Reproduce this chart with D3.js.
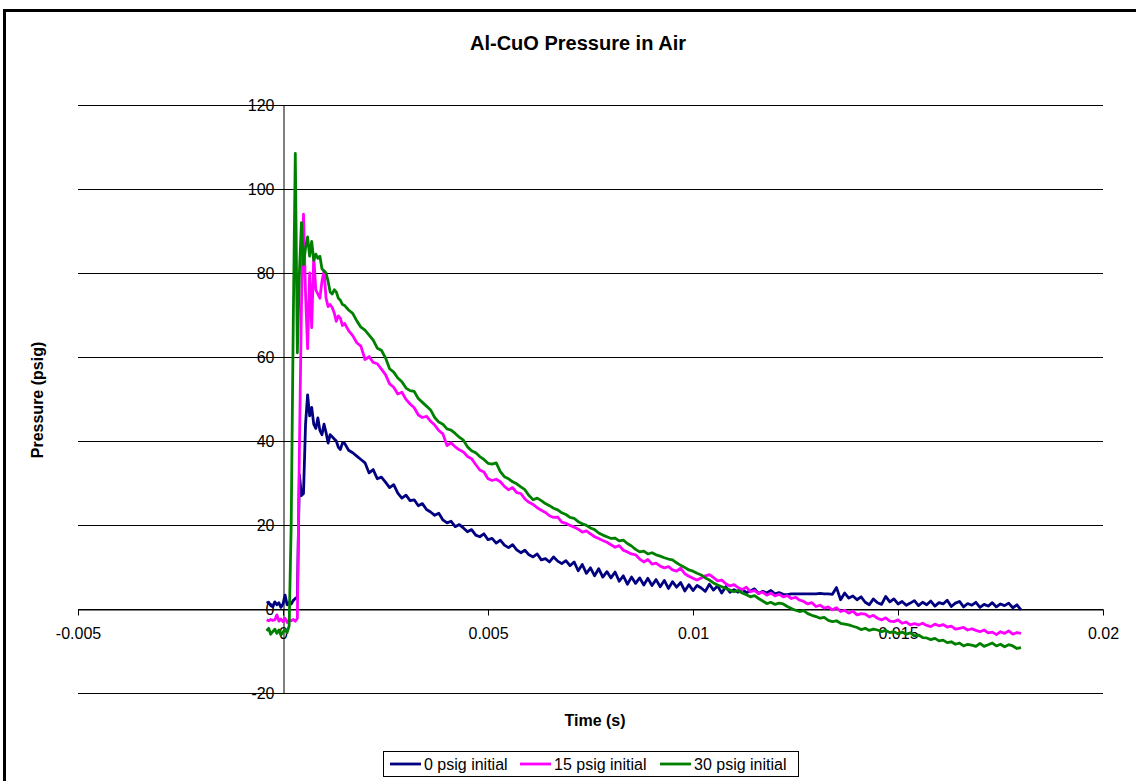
<!DOCTYPE html>
<html>
<head>
<meta charset="utf-8">
<script src="https://cdn.jsdelivr.net/npm/d3@7"></script>
<style>
  body { margin: 0; background: #fff; }
  text { font-family: "Liberation Sans", Arial, sans-serif; }
</style>
</head>
<body>
<script>
// sample grid: fine steps around the ignition, then 0.1 ms steps
var earlyTime = d3.range(-8, 30).map(function(i) { return i * 0.00005; });
var lateTime = d3.range(15, 181).map(function(i) { return i * 0.0001; });
var time = earlyTime.concat(lateTime);

var seriesNames = ["0 psig initial", "15 psig initial", "30 psig initial"];
var seriesColors = ["#000080", "#ff00ff", "#008000"];

var psig0 = [
  1.4, 1.6, 0.8, 0.5, 1.7, 1.0, 1.5, 0.4, 1.2, 3.3, 1.0, 1.6, 1.2, 2.0, 2.5, 2.8,
  32.0, 27.0, 27.5, 44.0, 51.0, 46.0, 48.0, 44.0, 43.0, 45.5, 42.5, 41.5, 44.0, 42.0, 39.5, 41.5,
  41.0, 40.5, 40.0, 38.5, 38.0, 39.5,
  39.5, 37.8, 37.2, 36.4, 35.6, 34.8, 32.4, 33.2, 31.0, 31.4, 30.2, 28.9, 29.6, 27.6, 26.4,
  27.1, 25.8, 26.0, 24.6, 25.1, 23.7, 23.1, 22.3, 22.8, 21.2,
  20.5, 20.9, 19.6, 20.1, 19.3, 18.4, 18.9, 17.6, 17.2, 17.9,
  16.5, 16.8, 15.7, 16.4, 15.2, 14.6, 15.3, 14.1, 13.4, 14.0,
  12.9, 12.4, 13.1, 11.7, 12.0, 11.2, 12.4, 11.4, 10.8, 11.5,
  10.3, 11.2, 9.1, 10.6, 8.5, 9.8, 7.9, 9.6, 7.6, 8.9,
  7.4, 8.8, 6.6, 7.9, 5.9, 7.6, 6.1, 7.4, 5.7, 7.3,
  5.6, 7.0, 5.3, 6.8, 4.9, 6.5, 5.2, 6.3, 4.3, 5.8,
  4.4, 5.6, 5.0, 4.2, 5.9, 4.5, 5.5, 3.8, 5.3, 4.0,
  4.6, 4.0, 4.7, 3.9, 4.3, 4.8, 3.7, 4.2, 3.8, 4.4,
  3.6, 3.9, 3.5, 3.4, 3.6, 3.6, 3.6, 3.6, 3.6, 3.6,
  3.6, 3.7, 3.6, 3.6, 3.5, 5.1, 2.2, 3.8, 2.6, 3.1,
  2.2, 2.9, 1.6, 1.0, 2.4, 1.5, 1.1, 3.0, 1.7, 2.4,
  1.2, 1.8, 0.9, 1.4, 2.0, 0.8, 1.6, 1.0, 1.9, 0.7,
  1.5, 1.2, 2.1, 0.6, 1.4, 1.8, 0.5, 1.3, 0.9, 1.6,
  0.4, 1.1, 0.7, 1.5, 0.5, 1.2, 0.8, 1.4, 0.3, 1.0,
  -0.2
];

var psig15 = [
  -2.6, -2.8, -2.5, -2.7, -2.6, -1.4, -2.9, -2.4, -3.0, -2.2, -3.2, -2.6, -2.8, -2.5, -2.9, -2.2,
  38.0, 72.0, 94.0, 75.0, 62.0, 80.0, 67.0, 84.0, 76.0, 75.0, 74.0, 78.0, 80.5, 74.0, 72.0, 72.5,
  71.8, 70.5, 68.5, 69.8, 69.2, 67.5,
  68.0, 66.3, 65.1, 63.4, 62.6, 59.4, 60.1, 58.7, 58.4, 57.1, 55.8, 53.6, 52.8, 51.2, 51.6,
  49.9, 48.8, 47.9, 46.2, 45.6, 45.9, 44.7, 43.8, 42.5, 41.7,
  38.9, 39.6, 38.6, 37.9, 37.4, 36.3, 35.8, 34.4, 33.1, 32.6,
  31.0, 30.6, 30.9, 30.3, 29.2, 28.4, 28.9, 27.7, 27.5, 26.2,
  25.4, 24.9, 24.1, 23.5, 23.0, 22.2, 21.8, 21.9, 20.7, 20.4,
  19.9, 19.5, 19.0, 18.3, 18.6, 17.9, 17.2, 16.8, 16.3, 15.9,
  15.3, 14.7, 15.1, 14.0, 13.6, 13.1, 12.9, 11.9, 11.2, 11.8,
  10.7, 10.9, 10.2, 9.8, 10.1, 9.3, 9.0, 9.7, 8.4, 7.8,
  7.3, 6.9, 7.4, 7.9, 8.2, 7.5, 6.7, 6.9, 6.0, 5.5,
  5.8, 5.1, 4.6, 5.2, 4.1, 4.4, 3.7, 4.0, 3.3, 3.8,
  3.1, 3.5, 2.9, 3.2, 2.5, 2.8, 2.1, 1.8, 1.2, 1.5,
  0.6, 0.9, 0.2, 0.5, -0.2, 0.3, -0.6, -0.3, -1.0, -0.5,
  -1.4, -1.1, -1.2, -1.9, -1.5, -2.2, -2.6, -2.1, -2.9, -3.0,
  -2.6, -3.4, -3.1, -3.8, -3.5, -3.8, -3.4, -3.9, -4.2, -3.6,
  -4.0, -3.7, -4.3, -4.1, -4.8, -4.6, -4.4, -5.0, -4.7, -5.1,
  -5.4, -5.0, -5.7, -5.5, -6.1, -5.4, -5.8, -5.2, -6.0, -5.6,
  -5.8
];

var psig30 = [
  -5.2, -4.6, -6.0, -5.4, -4.8, -5.8, -5.0, -6.2, -5.5, -4.9, -5.6, -4.0, 20.0, 68.0, 108.5, 61.0,
  80.0, 92.0, 82.0, 86.0, 88.6, 84.0, 87.5, 83.0, 84.5, 83.5, 84.0, 81.0, 80.5, 80.0, 78.0, 75.5,
  75.0, 76.0, 75.5, 74.0, 73.5, 72.5,
  72.3, 71.2, 70.4, 68.6, 67.1, 66.4, 65.2, 64.0, 62.1, 61.6, 59.8, 57.2, 56.4, 55.0, 54.1,
  52.6, 52.0, 51.8, 50.1, 49.2, 48.3, 47.4, 45.6, 44.5, 44.0,
  42.9, 42.6, 41.8, 40.9, 40.2, 38.6, 37.7, 37.2, 36.3, 35.6,
  34.7, 34.5, 34.8, 32.7, 31.5, 31.0, 30.3, 29.8, 29.1, 28.4,
  27.0, 26.0, 26.4, 25.8, 25.1, 24.6, 24.0, 23.6, 22.9, 22.5,
  21.8, 21.6, 20.8, 20.3, 19.9, 19.3, 18.9, 18.1, 17.6, 17.2,
  16.8, 16.9, 16.2, 16.4, 15.6, 15.0, 14.2, 13.6, 13.8, 13.1,
  13.4, 12.9, 12.6, 12.2, 11.9, 11.7, 11.0, 10.4, 9.9, 9.3,
  9.0, 8.5, 8.1, 7.4, 6.9, 6.2, 5.7, 5.3, 4.9, 4.5,
  4.1, 4.4, 3.8, 3.4, 2.9, 3.2, 2.5, 1.9, 1.3, 1.6,
  1.1, 1.4, 1.2, 0.6, 0.1, -0.3, -0.6, -0.4, -1.1, -1.5,
  -1.8, -2.2, -2.0, -2.7, -3.0, -2.8, -3.4, -3.6, -3.8, -4.1,
  -4.4, -4.9, -4.6, -5.1, -4.8, -5.0, -5.4, -5.1, -5.6, -5.4,
  -5.9, -5.5, -6.0, -5.7, -6.4, -6.2, -6.8, -6.9, -7.3, -7.0,
  -7.6, -7.4, -8.0, -7.8, -8.4, -8.1, -8.8, -8.4, -8.6, -8.9,
  -8.2, -8.9, -8.5, -8.1, -8.8, -8.4, -9.0, -8.5, -8.8, -9.4,
  -9.2
];

var allSeries = [psig0, psig15, psig30];

var xTicks = [-0.005, 0, 0.005, 0.01, 0.015, 0.02];
var xTickLabels = ["-0.005", "0", "0.005", "0.01", "0.015", "0.02"];
var yTicks = [-20, 0, 20, 40, 60, 80, 100, 120];
var yTickLabels = ["-20", "0", "20", "40", "60", "80", "100", "120"];

var w = 1136;
var h = 781;

var svg = d3.select("body")
            .append("svg")
            .attr("width", w)
            .attr("height", h);

// outer chart frame
svg.append("rect")
   .attr("x", 4.5).attr("y", 10.5)
   .attr("width", 1200).attr("height", 800)
   .attr("fill", "#fff")
   .attr("stroke", "#000")
   .attr("stroke-width", 3);

var x = d3.scaleLinear().domain([-0.005, 0.02]).range([78, 1103]);
var y = d3.scaleLinear().domain([-20, 120]).range([693, 105]);

// gridlines
svg.selectAll("line.grid")
   .data(yTicks)
   .enter()
   .append("line")
   .attr("class", "grid")
   .attr("x1", x(-0.005))
   .attr("x2", x(0.02))
   .attr("y1", function(d) { return Math.round(y(d)) + 0.5; })
   .attr("y2", function(d) { return Math.round(y(d)) + 0.5; })
   .attr("stroke", "#000")
   .attr("stroke-width", 1);

// y axis sits at x = 0
svg.append("g")
   .attr("transform", "translate(" + (Math.round(x(0)) + 0.5) + ",0)")
   .call(d3.axisLeft(y)
      .tickValues(yTicks)
      .tickSize(6)
      .tickSizeOuter(0)
      .tickFormat(function(d, i) { return yTickLabels[i]; }));

// x axis sits at y = 0
svg.append("g")
   .attr("transform", "translate(0," + (Math.round(y(0)) + 0.5) + ")")
   .call(d3.axisBottom(x)
      .tickValues(xTicks)
      .tickSize(6)
      .tickSizeOuter(0)
      .tickPadding(12)
      .tickFormat(function(d, i) { return xTickLabels[i]; }));

svg.selectAll(".tick text")
   .attr("font-family", "Liberation Sans, Arial, sans-serif")
   .attr("font-size", 16)
   .attr("fill", "#000");
svg.selectAll(".domain, .tick line")
   .attr("stroke", "#000");

var line = d3.line()
   .x(function(d, i) { return x(time[i]); })
   .y(function(d) { return y(d); });

svg.selectAll("path.series")
   .data(allSeries)
   .enter()
   .append("path")
   .attr("class", "series")
   .attr("d", line)
   .attr("fill", "none")
   .attr("stroke", function(d, i) { return seriesColors[i]; })
   .attr("stroke-width", 2.8)
   .attr("stroke-linejoin", "round");

// titles
svg.append("text")
   .attr("x", 578).attr("y", 50)
   .attr("text-anchor", "middle")
   .attr("font-size", 20).attr("font-weight", "bold")
   .text("Al-CuO Pressure in Air");

svg.append("text")
   .attr("x", 595).attr("y", 726)
   .attr("text-anchor", "middle")
   .attr("font-size", 16).attr("font-weight", "bold")
   .text("Time (s)");

svg.append("text")
   .attr("transform", "translate(43,400) rotate(-90)")
   .attr("text-anchor", "middle")
   .attr("font-size", 16).attr("font-weight", "bold")
   .text("Pressure (psig)");

// legend
svg.append("rect")
   .attr("x", 383.5).attr("y", 751.5)
   .attr("width", 415).attr("height", 25)
   .attr("fill", "#fff")
   .attr("stroke", "#000");

var legendX = [390, 520, 660];
var leg = svg.selectAll("g.legend")
   .data(seriesNames)
   .enter()
   .append("g")
   .attr("class", "legend")
   .attr("transform", function(d, i) { return "translate(" + legendX[i] + ",764)"; });

leg.append("line")
   .attr("x1", 0).attr("x2", 31)
   .attr("y1", 0).attr("y2", 0)
   .attr("stroke", function(d, i) { return seriesColors[i]; })
   .attr("stroke-width", 2.8);

leg.append("text")
   .attr("x", 34).attr("y", 6)
   .attr("font-size", 16)
   .text(function(d) { return d; });
</script>
</body>
</html>
